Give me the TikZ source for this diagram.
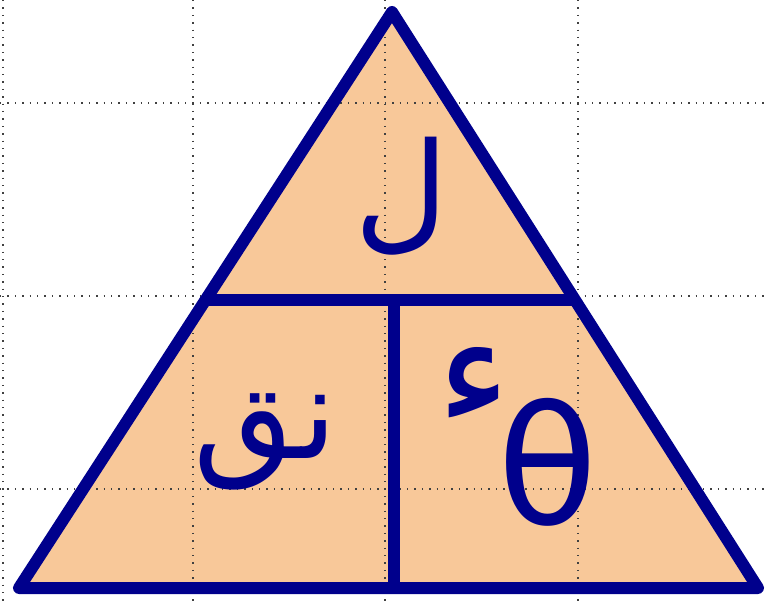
\documentclass[tikz,border=0pt]{standalone}
\usepackage{fontspec}
\usepackage{tikz}
\usetikzlibrary{positioning,calc}
\TeXXeTstate=1
\newfontfamily\arabicfont[Script=Arabic]{DejaVu Sans}
\newfontfamily\greekfont{DejaVu Sans}
\definecolor{trinavy}{RGB}{0,0,140}
\definecolor{peach}{RGB}{248,200,153}

\begin{document}
\begin{tikzpicture}[
    x=1bp, y=-1bp,
    edge/.style={draw=trinavy, line width=12bp, line join=round},
    gridline/.style={draw=black!75, line width=1.3bp, dash pattern=on 1.4bp off 6bp},
    letter/.style={text=trinavy, inner sep=0pt, anchor=center}
]
\useasboundingbox (0,0) rectangle (768,602);

% Corners of the triangle and its dividers
\coordinate (apex) at (392,12);
\coordinate (bl) at (19,588);
\coordinate (br) at (758,588);
\coordinate (ml) at ($(apex)!0.5!(bl)$);
\coordinate (mr) at ($(apex)!0.5!(br)$);
\coordinate (mtop) at (394,300);
\coordinate (mbot) at (mtop |- bl);

% Fill
\fill[peach] (apex) -- (bl) -- (br) -- cycle;

% Dotted grid
\foreach \gx in {3,193,385,578}
    \draw[gridline] (\gx,0) -- (\gx,602);
\foreach \gy in {103,296,489}
    \draw[gridline] (0,\gy) -- (768,\gy);

% Outline and dividers
\draw[edge] (apex) -- (bl) -- (br) -- cycle;
\draw[edge] (ml) -- (mr);
\draw[edge] (mtop) -- (mbot);

% Letters
\node[letter, font=\arabicfont\fontsize{130}{130}\selectfont] (arc) at (402,196) {\beginR ل\endR};
\node[letter, font=\arabicfont\fontsize{130}{130}\selectfont] (radius) at (266,442) {\beginR نق\endR};
\node[letter, font=\greekfont\fontsize{165}{165}\selectfont] (angle) at (548,462) {θ};
\node[letter, font=\arabicfont\fontsize{160}{160}\selectfont] (unit) at (474,386) {\beginR ء\endR};

\end{tikzpicture}
\end{document}
